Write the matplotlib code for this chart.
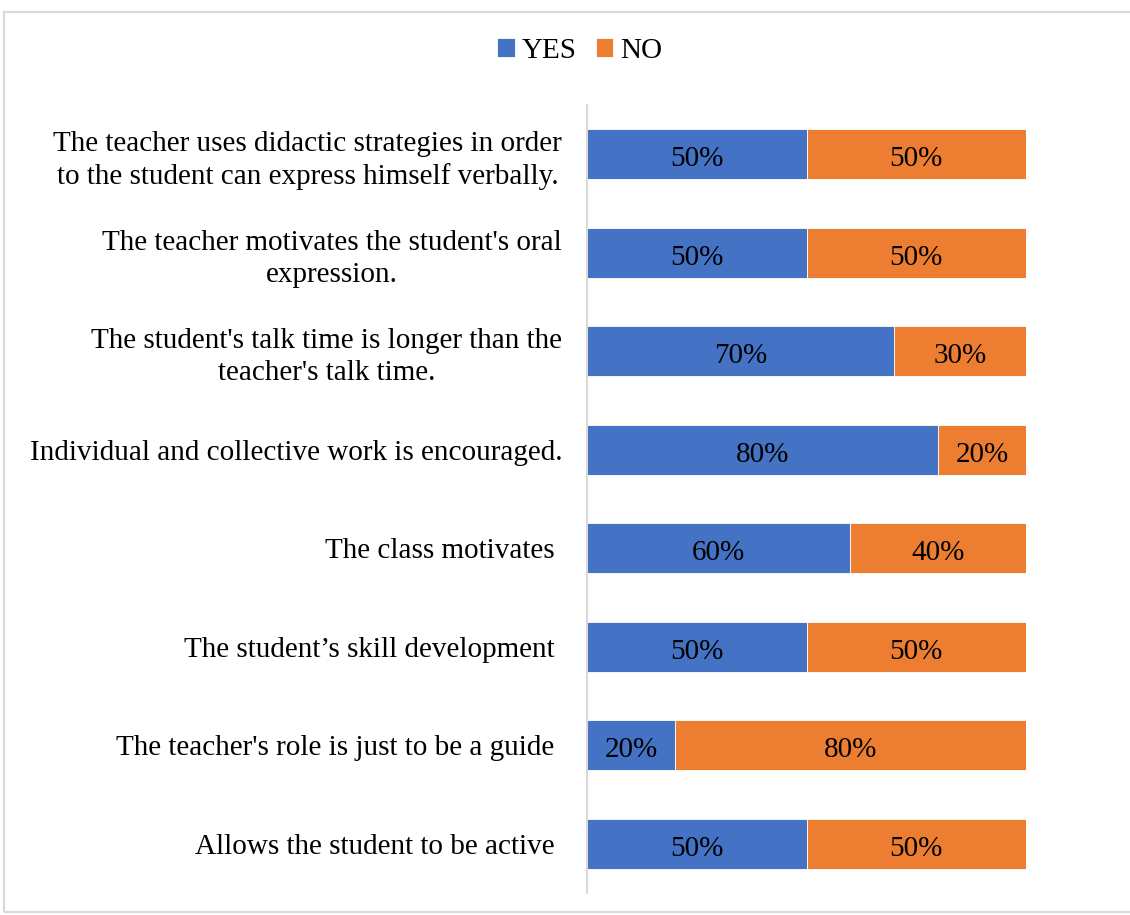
import matplotlib.pyplot as plt
from matplotlib.patches import Rectangle

plt.rcParams['font.family'] = ['Liberation Serif', 'DejaVu Serif']

categories = [
    "The teacher uses didactic strategies in order\nto the student can express himself verbally.",
    "The teacher motivates the student's oral\nexpression.",
    "The student's talk time is longer than the\nteacher's talk time.",
    "Individual and collective work is encouraged.",
    "The class motivates ",
    "The student\u2019s skill development ",
    "The teacher's role is just to be a guide ",
    "Allows the student to be active ",
]
yes = [50, 50, 70, 80, 60, 50, 20, 50]
no = [50, 50, 30, 20, 40, 50, 80, 50]

blue = '#4472C4'
orange = '#ED7D31'
fs = 21

fig = plt.figure(figsize=(11.3, 9.15), dpi=100)
ax = fig.add_axes([587 / 1130, 1 - 893 / 915, (1026 - 587) / 1130, (893 - 105) / 915])

ypos = list(range(len(categories)))
b1 = ax.barh(ypos, yes, height=0.51, color=blue, edgecolor='white', linewidth=0.6, label='YES')
b2 = ax.barh(ypos, no, left=yes, height=0.51, color=orange, edgecolor='white', linewidth=0.6, label='NO')

for i in ypos:
    ax.text(yes[i] / 2, i + 0.02, f"{yes[i]}%", ha='center', va='center_baseline', fontsize=fs, color='black')
    ax.text(yes[i] + no[i] / 2, i + 0.02, f"{no[i]}%", ha='center', va='center_baseline', fontsize=fs, color='black')

ax.set_xlim(0, 100)
ax.set_ylim(len(categories) - 0.5, -0.5)
ax.set_yticks(ypos)
ax.set_yticklabels(categories, fontsize=fs, multialignment='center', linespacing=1.3)
ax.tick_params(axis='y', length=0, pad=18)
ax.set_xticks([])
for side in ['top', 'right', 'bottom']:
    ax.spines[side].set_visible(False)
ax.spines['left'].set_color('#d9d9d9')
ax.spines['left'].set_linewidth(1.5)

fig.legend(handles=[b1, b2], labels=['YES', 'NO'], loc='center', bbox_to_anchor=(580 / 1130, 1 - 51 / 915),
           ncol=2, frameon=False, fontsize=fs, handlelength=0.6, handleheight=0.6,
           handletextpad=0.25, columnspacing=0.65)

# light frame around the chart area
fig.patches.append(Rectangle((4 / 1130, 1 - 912 / 915), 1.2, (912 - 12) / 915, transform=fig.transFigure,
                             fill=False, edgecolor='#d9d9d9', linewidth=1.5))

fig.savefig('out.png', dpi=100, facecolor='white')
